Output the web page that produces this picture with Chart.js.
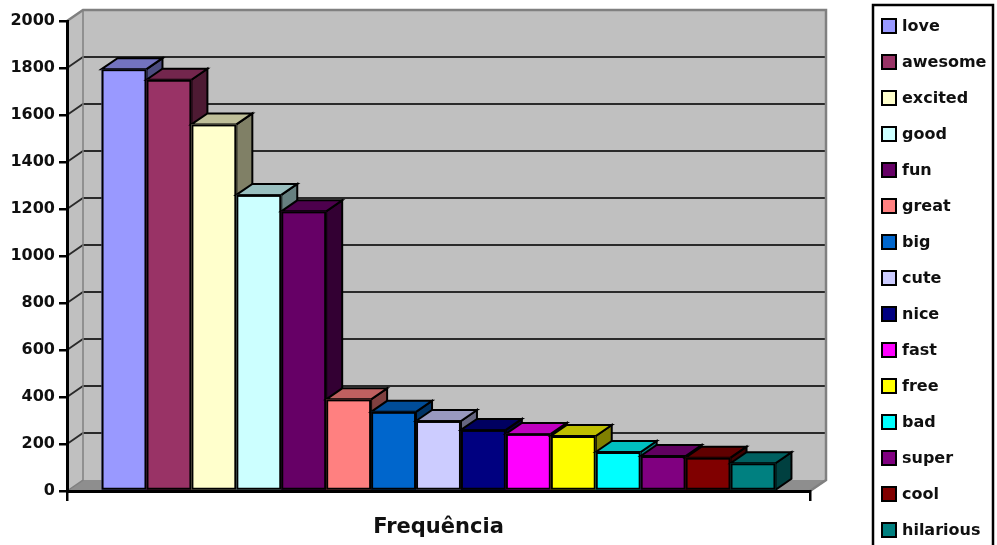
<!DOCTYPE html>
<html>
<head>
<meta charset="utf-8">
<title>Frequência</title>
<script src="https://cdn.jsdelivr.net/npm/chart.js@4.4.1/dist/chart.umd.min.js"></script>
<style>
  html, body { margin: 0; padding: 0; background: #ffffff; }
  #wrap { position: absolute; left: 0; top: 0; width: 997px; height: 545px; }
</style>
</head>
<body>
<div id="wrap"><canvas id="chart" width="997" height="545"></canvas></div>
<script>
// Category and series
const categories = ['Frequência'];
const seriesNames = ['love', 'awesome', 'excited', 'good', 'fun', 'great', 'big', 'cute',
                     'nice', 'fast', 'free', 'bad', 'super', 'cool', 'hilarious'];
const seriesValues = [1795, 1750, 1560, 1260, 1190, 390, 337, 298, 260, 243, 234, 166, 149, 142, 118];
const seriesColors = ['#9999FF', '#993366', '#FFFFCC', '#CCFFFF', '#660066', '#FF8080', '#0066CC', '#CCCCFF',
                      '#000080', '#FF00FF', '#FFFF00', '#00FFFF', '#800080', '#800000', '#008080'];
// Value axis ticks
const yMin = 0;
const yMax = 2000;
const yStep = 200;

// Depth of the pseudo-3D projection (pixels)
const DX = 16;
const DY = -11;
const FONT = '"DejaVu Sans", sans-serif';
const TEXT = '#101010';

function shade(hex, f) {
  const n = parseInt(hex.slice(1), 16);
  const r = Math.round(((n >> 16) & 255) * f);
  const g = Math.round(((n >> 8) & 255) * f);
  const b = Math.round((n & 255) * f);
  return 'rgb(' + r + ',' + g + ',' + b + ')';
}

function poly(ctx, pts) {
  ctx.beginPath();
  ctx.moveTo(pts[0][0], pts[0][1]);
  for (let i = 1; i < pts.length; i++) ctx.lineTo(pts[i][0], pts[i][1]);
  ctx.closePath();
}

// Side wall, back wall, floor and the gridlines on the walls
const wallsPlugin = {
  id: 'walls',
  beforeDraw(chart) {
    const ctx = chart.ctx;
    const xs = chart.scales.x, ys = chart.scales.y;
    const L = xs.left, R = xs.right;
    const B = ys.getPixelForValue(yMin), T = ys.getPixelForValue(yMax);
    ctx.save();
    // left wall
    ctx.fillStyle = '#c0c0c0';
    poly(ctx, [[L, B], [L, T], [L + DX, T + DY], [L + DX, B + DY]]);
    ctx.fill();
    // back wall
    ctx.fillRect(L + DX, T + DY, R - L, B - T);
    // floor
    ctx.fillStyle = '#8e8e8e';
    poly(ctx, [[L, B], [L + DX, B + DY], [R + DX, B + DY], [R, B]]);
    ctx.fill();
    // gridlines
    ctx.strokeStyle = '#2a2a2a';
    ctx.lineWidth = 1.8;
    for (let v = yMin + yStep; v < yMax; v += yStep) {
      const py = ys.getPixelForValue(v);
      ctx.beginPath();
      ctx.moveTo(L, py);
      ctx.lineTo(L + DX, py + DY);
      ctx.lineTo(R + DX, py + DY);
      ctx.stroke();
    }
    // wall edges
    ctx.strokeStyle = '#808080';
    ctx.lineWidth = 2.5;
    ctx.beginPath();
    ctx.moveTo(L, T);
    ctx.lineTo(L + DX, T + DY);
    ctx.lineTo(R + DX, T + DY);
    ctx.lineTo(R + DX, B + DY);
    ctx.lineTo(R, B);
    ctx.stroke();
    ctx.lineWidth = 1.5;
    ctx.beginPath();
    ctx.moveTo(L + DX, T + DY);
    ctx.lineTo(L + DX, B + DY);
    ctx.lineTo(L, B);
    ctx.stroke();
    ctx.restore();
  }
};

// Columns drawn as boxes, left to right, so each box hides the side of the one before it
const boxesPlugin = {
  id: 'boxes',
  afterDatasetsDraw(chart) {
    const ctx = chart.ctx;
    ctx.save();
    ctx.strokeStyle = '#000';
    ctx.lineJoin = 'miter';
    chart.data.datasets.forEach((ds, i) => {
      const meta = chart.getDatasetMeta(i);
      const el = meta.data[0];
      if (!el) return;
      const p = el.getProps(['x', 'y', 'base', 'width'], true);
      const l = p.x - p.width / 2, r = p.x + p.width / 2;
      const t = p.y, b = p.base;
      const c = ds.backgroundColor;
      ctx.lineWidth = 2;
      // side face
      ctx.fillStyle = shade(c, 0.5);
      poly(ctx, [[r, t], [r + DX, t + DY], [r + DX, b + DY], [r, b]]);
      ctx.fill();
      ctx.stroke();
      // top face
      ctx.fillStyle = shade(c, 0.75);
      poly(ctx, [[l, t], [l + DX, t + DY], [r + DX, t + DY], [r, t]]);
      ctx.fill();
      ctx.stroke();
      // front face
      ctx.fillStyle = c;
      ctx.fillRect(l, t, r - l, b - t);
      ctx.lineWidth = 2;
      ctx.strokeRect(l + 1, t + 1, r - l - 2, b - t - 2);
    });
    ctx.restore();
  }
};

// Boxed legend on the right
const legendPlugin = {
  id: 'boxLegend',
  afterDraw(chart) {
    const ctx = chart.ctx;
    const x0 = 873, y0 = 5, w = 120, step = 36, first = 26;
    ctx.save();
    ctx.strokeStyle = '#000';
    ctx.lineWidth = 2.5;
    ctx.strokeRect(x0, y0, w, chart.height + 10);
    ctx.font = 'bold 16px ' + FONT;
    ctx.textBaseline = 'middle';
    ctx.textAlign = 'left';
    chart.data.datasets.forEach((ds, i) => {
      const cy = first + i * step;
      ctx.fillStyle = ds.backgroundColor;
      ctx.fillRect(883, cy - 6, 12, 12);
      ctx.lineWidth = 2;
      ctx.strokeRect(882, cy - 7, 14, 14);
      ctx.fillStyle = TEXT;
      ctx.fillText(ds.label, 902, cy + 1);
    });
    ctx.restore();
  }
};

const datasets = seriesNames.map((name, i) => ({
  label: name,
  data: [seriesValues[i]],
  backgroundColor: seriesColors[i],
  borderColor: '#000',
  borderWidth: 2,
  borderSkipped: false
}));

new Chart(document.getElementById('chart'), {
  type: 'bar',
  data: { labels: categories, datasets: datasets },
  options: {
    responsive: false,
    animation: false,
    devicePixelRatio: 1,
    layout: { padding: { top: 21, right: 187, bottom: 0, left: 0 } },
    plugins: { legend: { display: false }, tooltip: { enabled: false } },
    datasets: { bar: { categoryPercentage: 0.907, barPercentage: 1 } },
    scales: {
      x: {
        offset: true,
        grid: { offset: true, drawOnChartArea: false, drawTicks: true, tickLength: 10, color: '#000', lineWidth: 2.5 },
        border: { display: true, color: '#000', width: 3 },
        ticks: { color: TEXT, font: { family: FONT, size: 21, weight: 'bold' }, padding: 14 },
        afterFit(scale) { scale.height = 54; }
      },
      y: {
        min: yMin,
        max: yMax,
        ticks: {
          stepSize: yStep,
          color: TEXT,
          font: { family: FONT, size: 16, weight: 'bold' },
          padding: 4,
          callback: (v) => String(v)
        },
        grid: { drawOnChartArea: false, drawTicks: true, tickLength: 8, color: '#000', lineWidth: 2.5 },
        border: { display: true, color: '#000', width: 3 },
        afterFit(scale) { scale.width = 67; }
      }
    }
  },
  plugins: [wallsPlugin, boxesPlugin, legendPlugin]
});
</script>
</body>
</html>
